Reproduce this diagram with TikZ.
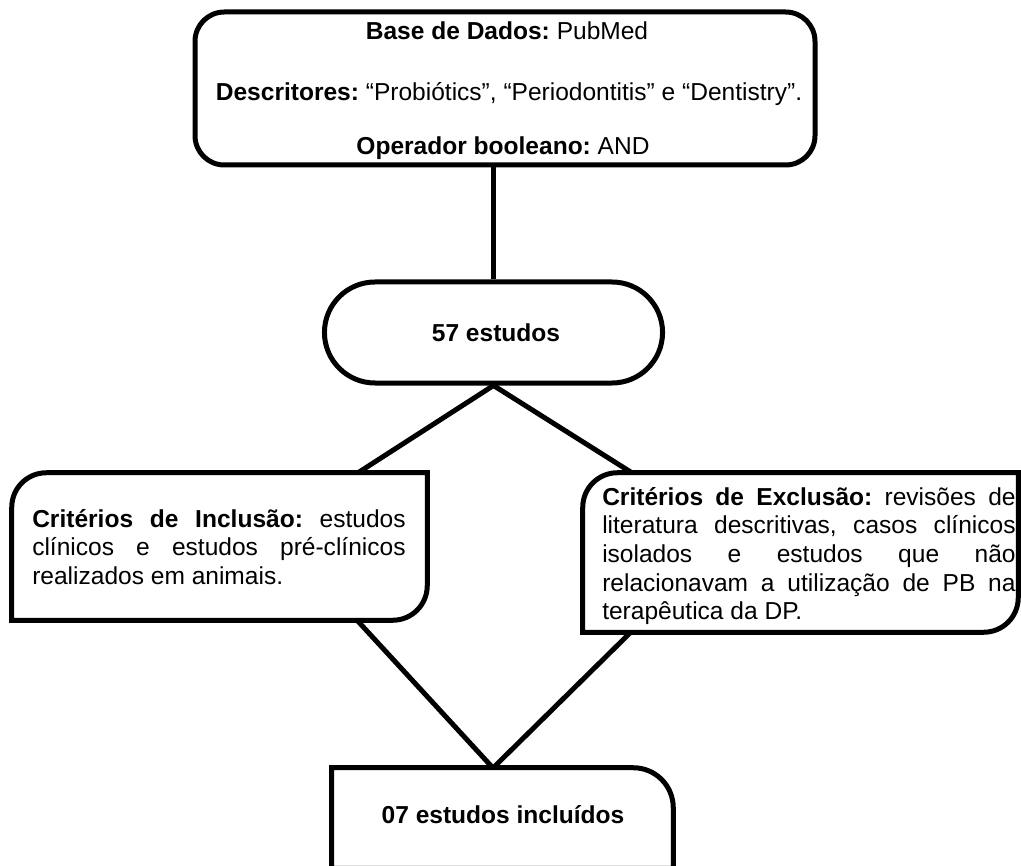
\documentclass[tikz,border=0pt]{standalone}
\usepackage{fontspec}
\setmainfont{Liberation Sans}
\usetikzlibrary{shapes.misc}
\frenchspacing
\begin{document}
\begin{tikzpicture}[x=0.75pt,y=-0.75pt,
  every node/.style={font=\fontsize{18.4pt}{21.5pt}\selectfont},
  box/.style={line width=3.75pt, fill=white},
  conn/.style={line width=3.75pt, line join=miter},
  txt/.style={inner sep=0pt},
  para/.style={inner sep=0pt, anchor=north west, align=justify}]
\useasboundingbox (0,0) rectangle (1021,866);
% anchors for connectors
\coordinate (meet) at (493,768);
\coordinate (lin) at (353,476);
\coordinate (lout) at (355,618);
\coordinate (rin) at (637,476);
\coordinate (rout) at (633,630);
% nodes (geometry only, drawn below)
\node[box, draw, rounded corners=22pt, minimum width=465pt, minimum height=114.75pt] (top) at (505,88.5) {};
\node[box, draw, rounded rectangle, minimum width=260.25pt, minimum height=75.75pt] (stad) at (493.5,332.5) {};
\node[minimum width=311.25pt, minimum height=110.25pt, inner sep=0pt] (lbox) at (219.5,546.5) {};
\node[minimum width=326.25pt, minimum height=119.25pt, inner sep=0pt] (rbox) at (800.5,552.5) {};
\node[minimum width=255.75pt, minimum height=75pt, inner sep=0pt] (bbox) at (502.5,818) {};
% connectors
\draw[conn] (stad.north |- top.south) -- (stad.north);
\draw[conn] (lin) -- (stad.south) -- (rin);
\draw[conn] (lout) -- (meet) -- (rout);
% left box
\draw[box] (lbox.south west) -- ([yshift=-26pt]lbox.north west)
  .. controls ([yshift=-11.6pt]lbox.north west) and ([xshift=11.6pt]lbox.north west) .. ([xshift=26pt]lbox.north west)
  -- (lbox.north east) -- ([yshift=26pt]lbox.south east)
  .. controls ([yshift=11.6pt]lbox.south east) and ([xshift=-11.6pt]lbox.south east) .. ([xshift=-26pt]lbox.south east)
  -- cycle;
% right box
\draw[box] (rbox.south west) -- ([yshift=-26pt]rbox.north west)
  .. controls ([yshift=-11.6pt]rbox.north west) and ([xshift=11.6pt]rbox.north west) .. ([xshift=26pt]rbox.north west)
  -- (rbox.north east) -- ([yshift=26pt]rbox.south east)
  .. controls ([yshift=11.6pt]rbox.south east) and ([xshift=-11.6pt]rbox.south east) .. ([xshift=-26pt]rbox.south east)
  -- cycle;
% bottom box (runs off the page)
\begin{scope}
\clip (0,0) rectangle (1021,866);
\draw[box] (bbox.south west) -- (bbox.north west) -- ([xshift=-30pt]bbox.north east)
  .. controls ([xshift=-13.4pt]bbox.north east) and ([yshift=-13.4pt]bbox.north east) .. ([yshift=-30pt]bbox.north east)
  -- (bbox.south east) -- cycle;
\end{scope}
% texts
\node[txt, anchor=base] (t1) at (507,40) {\textbf{Base de Dados:} PubMed};
\node[txt, anchor=base] (t2) at (509,101) {\textbf{Descritores:} “Probiótics”, “Periodontitis” e “Dentistry”.};
\node[txt, anchor=base] (t3) at (503,155) {\textbf{Operador booleano:} AND};
\node[txt, anchor=base] (s1) at (496,341) {\textbf{57 estudos}};
\node[para, text width=280pt] (ltext) at (32,509) {\hyphenpenalty=10000\exhyphenpenalty=10000
  \textbf{Critérios de Inclusão:} estudos\linebreak clínicos e estudos pré-clínicos\linebreak realizados em animais.};
\node[para, text width=310pt] (rtext) at (602,487) {\hyphenpenalty=10000\exhyphenpenalty=10000
  \textbf{Critérios de Exclusão:} revisões de\linebreak literatura descritivas, casos clínicos\linebreak isolados e estudos que não\linebreak relacionavam a utilização de PB na\linebreak terapêutica da DP.};
\node[txt, anchor=base] (b1) at (503,823) {\textbf{07 estudos incluídos}};
\end{tikzpicture}
\end{document}
